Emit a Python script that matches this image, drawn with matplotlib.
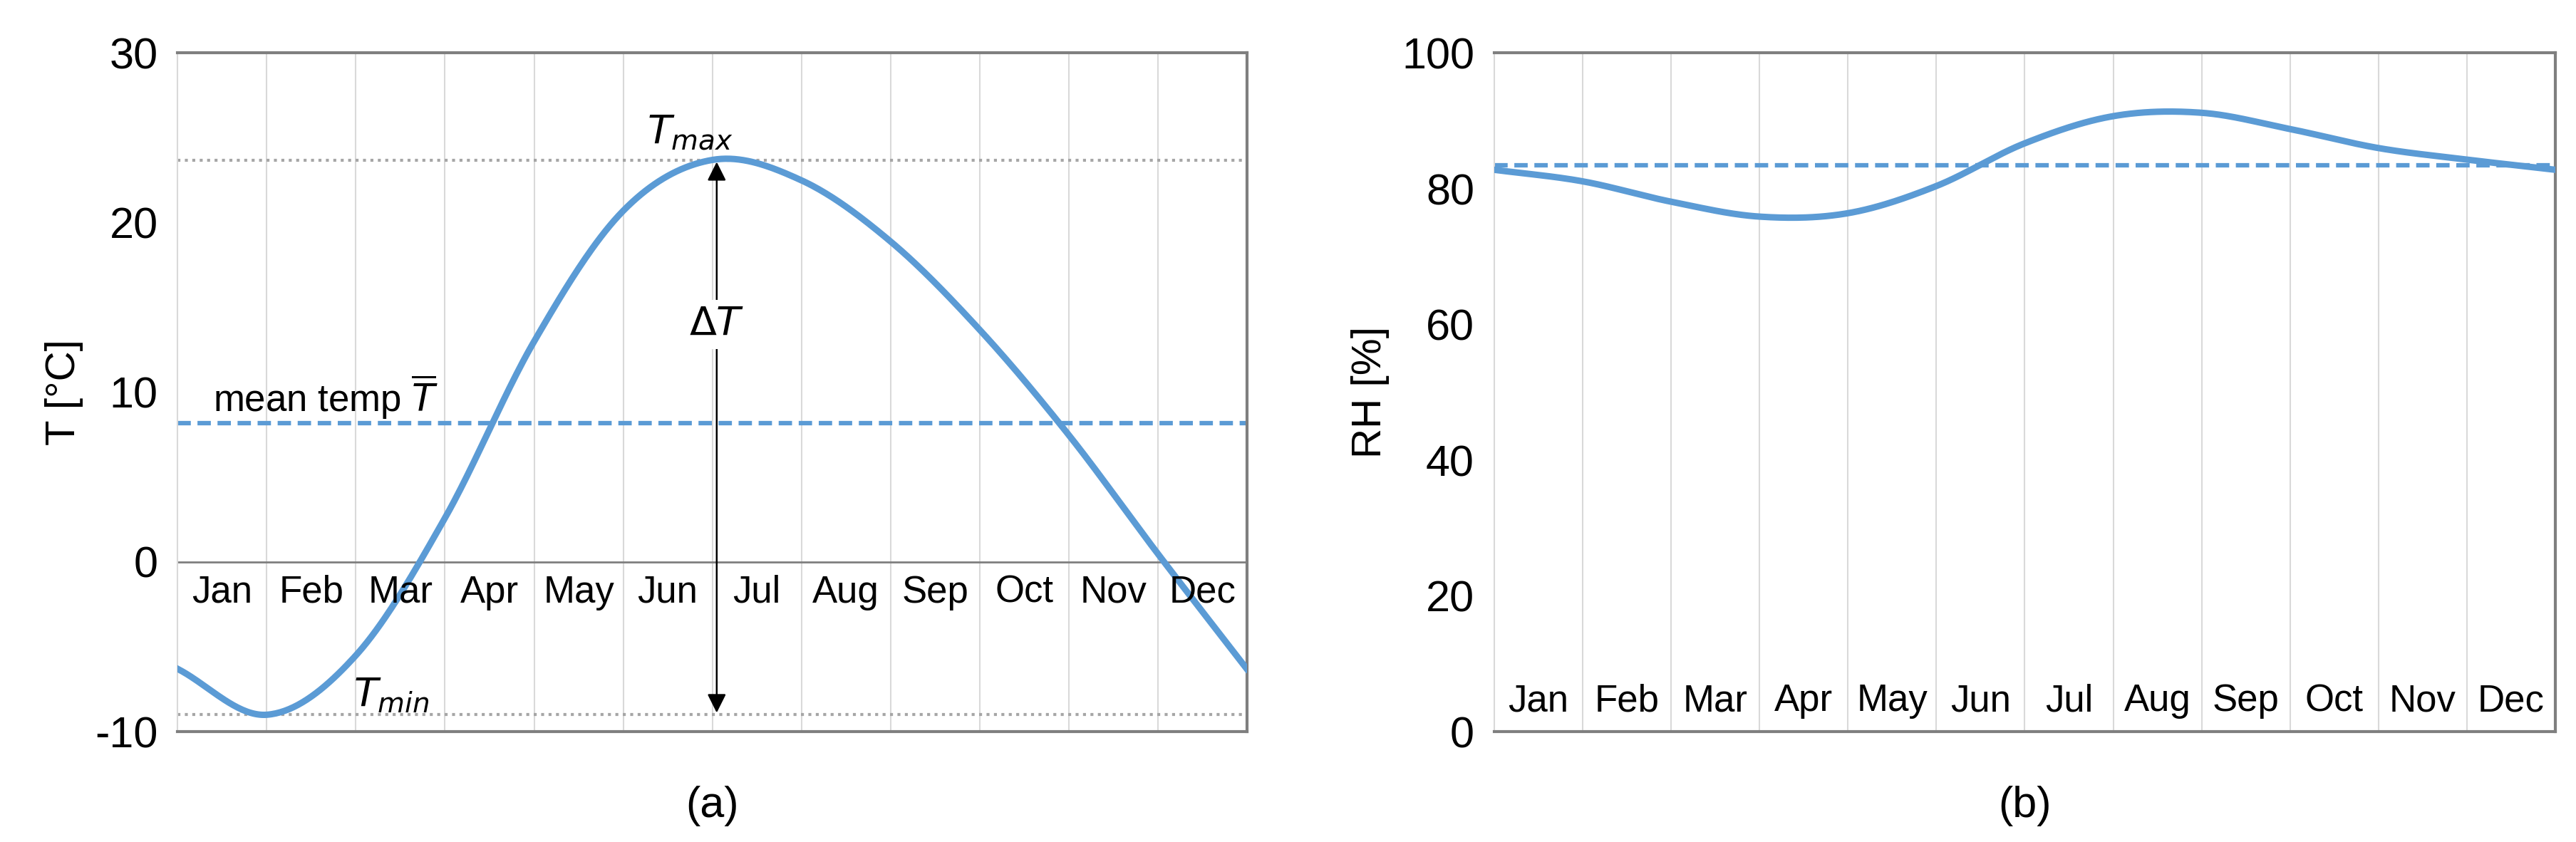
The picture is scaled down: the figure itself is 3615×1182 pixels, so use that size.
import numpy as np
import matplotlib
matplotlib.use("Agg")
import matplotlib.pyplot as plt

plt.rcParams['font.family'] = ['Liberation Sans Narrow', 'Liberation Sans', 'DejaVu Sans']
plt.rcParams['axes.unicode_minus'] = False
plt.rcParams['mathtext.fontset'] = 'custom'
plt.rcParams['mathtext.it'] = 'Liberation Sans Narrow:italic'
plt.rcParams['mathtext.rm'] = 'Liberation Sans Narrow'

# ── Données ───────────────────────────────────────────────────────
months    = ["Jan","Feb","Mar","Apr","May","Jun","Jul","Aug","Sep","Oct","Nov","Dec"]
t_values  = [-6.3, -9.0, -5.5, 2.6, 13.0, 20.7, 23.7, 22.5, 18.9, 13.7, 7.5, 0.5, -6.3]
rh_values = [82.8, 81.1, 78.1, 75.9, 76.4, 80.4, 86.7, 90.7, 91.2, 88.8, 86.0, 84.3, 82.8]
t_mean, t_max, t_min = 8.2, 23.7, -9.0
rh_mean = 83.5

BLUE  = "#5B9BD5"
GRID  = "#D9D9D9"
FRAME = "#7F7F7F"


def lisser(vals, n=40):
    """Courbe lissée type Catmull-Rom (comme les courbes lissées d'Excel)."""
    p = np.array(vals, dtype=float)
    p = np.concatenate([[2*p[0]-p[1]], p, [2*p[-1]-p[-2]]])
    xs, ys = [], []
    for i in range(1, len(p)-2):
        t = np.linspace(0, 1, n, endpoint=False)
        p0, p1, p2, p3 = p[i-1], p[i], p[i+1], p[i+2]
        y = 0.5*((2*p1) + (-p0+p2)*t + (2*p0-5*p1+4*p2-p3)*t**2 + (-p0+3*p1-3*p2+p3)*t**3)
        xs.append(i-1+t); ys.append(y)
    xs.append([len(vals)-1]); ys.append([vals[-1]])
    return np.concatenate(xs), np.concatenate(ys)


def cadre(ax, ylim, yticks):
    ax.set_xlim(0, 12)
    ax.set_ylim(*ylim)
    ax.set_xticks([])
    ax.set_yticks(yticks)
    ax.tick_params(axis="y", length=0, labelsize=44, pad=20)
    for i in range(1, 12):
        ax.axvline(i, color=GRID, lw=1.5, zorder=0)
    for s in ax.spines.values():
        s.set_color(FRAME); s.set_linewidth(3)
    ax.spines["left"].set_color(GRID); ax.spines["left"].set_linewidth(1.5)


fig = plt.figure(figsize=(36.15, 11.82), dpi=100)
ax1 = fig.add_axes([0.069, 0.131, 0.415, 0.806])
ax2 = fig.add_axes([0.580, 0.131, 0.412, 0.806])

# ── (a) Température ───────────────────────────────────────────────
cadre(ax1, (-10, 30), [-10, 0, 10, 20, 30])
ax1.axhline(0, color=FRAME, lw=2, zorder=1)
ax1.axhline(t_max, color="#A6A6A6", lw=3, ls=(0, (1, 1.5)), zorder=1)
ax1.axhline(t_min, color="#A6A6A6", lw=3, ls=(0, (1, 1.5)), zorder=1)
ax1.axhline(t_mean, color=BLUE, lw=4.5, ls=(0, (3, 1.5)), zorder=2)
x, y = lisser(t_values)
ax1.plot(x, y, color=BLUE, lw=6.5, zorder=3)
ax1.annotate("", xy=(6.05, t_max), xytext=(6.05, t_min),
             arrowprops=dict(arrowstyle="<|-|>", color="black", lw=1.8, mutation_scale=40), zorder=4)
ax1.text(6.05, 14, r"$\mathit{\Delta T}$", fontsize=40, ha="center", va="center",
         bbox=dict(fc="white", ec="none", pad=6), zorder=5)
ax1.text(5.75, 25.3, r"$T_{max}$", fontsize=40, ha="center", va="center")
ax1.text(2.4, -7.9, r"$T_{min}$", fontsize=40, ha="center", va="center")
ax1.text(0.4, 9.7, r"mean temp $\overline{T}$", fontsize=38, ha="left", va="center")
for i, m in enumerate(months):
    ax1.text(i+0.5, -1.8, m, fontsize=38, ha="center", va="center")
ax1.set_ylabel("T [°C]", fontsize=42, labelpad=12)
ax1.text(0.5, -0.11, "(a)", transform=ax1.transAxes, fontsize=44, ha="center", va="center")

# ── (b) Humidité relative ─────────────────────────────────────────
cadre(ax2, (0, 100), [0, 20, 40, 60, 80, 100])
ax2.axhline(rh_mean, color=BLUE, lw=4.5, ls=(0, (3, 1.5)), zorder=2)
x, y = lisser(rh_values)
ax2.plot(x, y, color=BLUE, lw=6.5, zorder=3)
for i, m in enumerate(months):
    ax2.text(i+0.5, 4.5, m, fontsize=38, ha="center", va="center")
ax2.set_ylabel("RH [%]", fontsize=42, labelpad=12)
ax2.text(0.5, -0.11, "(b)", transform=ax2.transAxes, fontsize=44, ha="center", va="center")

fig.savefig("out.png", dpi=100, facecolor="white")
